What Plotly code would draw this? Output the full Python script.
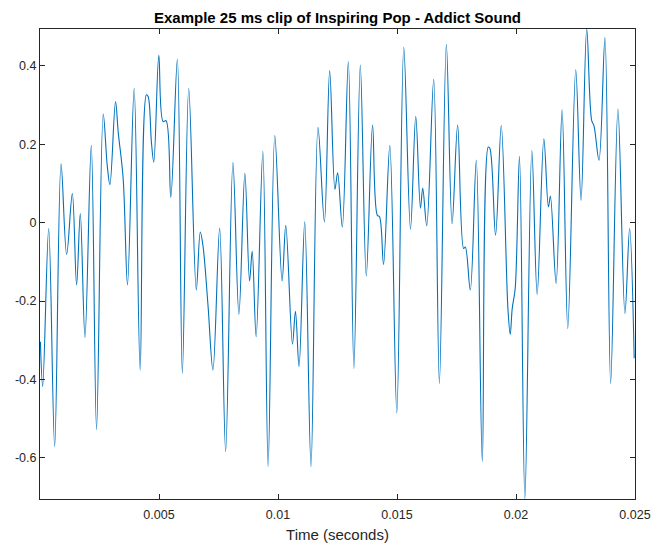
import plotly.graph_objects as go

# Waveform turning points (time in seconds, amplitude)
time_s = [
    0.000017, 0.000113, 0.000365, 0.000616, 0.000884, 0.001119, 0.001358, 0.001538,
    0.001693, 0.001890, 0.002154, 0.002376, 0.002657, 0.002825, 0.002938, 0.003173,
    0.003286, 0.003495, 0.003676, 0.003956, 0.004208, 0.004472, 0.004543, 0.004681,
    0.004782, 0.004992, 0.005172, 0.005298, 0.005495, 0.005771, 0.005981, 0.006249,
    0.006567, 0.006735, 0.006848, 0.007058, 0.007267, 0.007548, 0.007800, 0.008106,
    0.008357, 0.008608, 0.008805, 0.008915, 0.009082, 0.009363, 0.009585, 0.009866,
    0.010172, 0.010327, 0.010608, 0.010733, 0.010884, 0.011123, 0.011387, 0.011681,
    0.011949, 0.012171, 0.012393, 0.012506, 0.012703, 0.012955, 0.013189, 0.013458,
    0.013709, 0.013973, 0.014170, 0.014267, 0.014434, 0.014698, 0.014992, 0.015285,
    0.015566, 0.015788, 0.015985, 0.016081, 0.016249, 0.016542, 0.016781, 0.017074,
    0.017314, 0.017548, 0.017800, 0.017871, 0.018080, 0.018332, 0.018584, 0.018835,
    0.018906, 0.019141, 0.019380, 0.019660, 0.019757, 0.019841, 0.019966, 0.020146,
    0.020373, 0.020666, 0.020889, 0.021170, 0.021362, 0.021446, 0.021685, 0.021936,
    0.022175, 0.022510, 0.022733, 0.022972, 0.023181, 0.023277, 0.023487, 0.023738,
    0.023977, 0.024283, 0.024577, 0.024774, 0.024966,
]
amplitude = [
    -0.304, -0.418, -0.015, -0.571, 0.150, -0.081, 0.074, -0.159,
    0.023, -0.293, 0.197, -0.528, 0.277, 0.146, 0.097, 0.309,
    0.231, 0.112, -0.159, 0.343, -0.376, 0.326, 0.322, 0.205,
    0.154, 0.427, 0.258, 0.260, 0.065, 0.417, -0.384, 0.343,
    -0.172, -0.024, -0.059, -0.210, -0.376, -0.014, -0.584, 0.153,
    -0.234, 0.126, -0.149, -0.073, -0.291, 0.182, -0.622, 0.222,
    -0.149, -0.007, -0.310, -0.226, -0.367, 0.002, -0.622, 0.243,
    0.002, 0.388, 0.085, 0.127, -0.011, 0.411, -0.372, 0.402,
    -0.136, 0.249, 0.019, 0.015, -0.107, 0.197, -0.486, 0.447,
    -0.017, 0.271, 0.037, 0.088, -0.008, 0.366, -0.410, 0.455,
    -0.003, 0.249, -0.066, -0.062, -0.172, 0.160, -0.609, 0.193,
    0.189, -0.032, 0.248, -0.219, -0.285, -0.219, -0.168, 0.169,
    -0.705, 0.184, -0.183, 0.214, 0.040, 0.068, -0.155, 0.288,
    -0.270, 0.390, 0.057, 0.494, 0.260, 0.247, 0.159, 0.472,
    -0.410, 0.290, -0.232, -0.015, -0.346,
]

x_ticks = [0.005, 0.01, 0.015, 0.02, 0.025]
x_tick_text = ["0.005", "0.01", "0.015", "0.02", "0.025"]
y_ticks = [-0.6, -0.4, -0.2, 0, 0.2, 0.4]
y_tick_text = ["-0.6", "-0.4", "-0.2", "0", "0.2", "0.4"]

axis_color = "#262626"

fig = go.Figure(
    go.Scatter(
        x=time_s,
        y=amplitude,
        mode="lines",
        line=dict(color="#0072BD", width=1.1, shape="spline", smoothing=1.0),
        hoverinfo="skip",
    )
)

fig.update_layout(
    width=651,
    height=544,
    margin=dict(l=40, r=16, t=29, b=45),
    paper_bgcolor="white",
    plot_bgcolor="white",
    showlegend=False,
    font=dict(family="Liberation Sans, Arial, sans-serif", size=12.5, color=axis_color),
    title=dict(
        text="<b>Example 25 ms clip of Inspiring Pop - Addict Sound</b>",
        x=(40 + 635) / 2 / 651,
        xanchor="center",
        y=1 - 18 / 544,
        yanchor="middle",
        font=dict(size=15, color="black"),
    ),
)

fig.update_xaxes(
    range=[0, 0.025],
    tickvals=x_ticks,
    ticktext=x_tick_text,
    ticks="inside",
    ticklen=5,
    tickcolor=axis_color,
    ticklabelstandoff=4,
    showline=True,
    linecolor=axis_color,
    linewidth=1,
    mirror="allticks",
    showgrid=False,
    zeroline=False,
    automargin=False,
    title=dict(text="Time (seconds)", font=dict(size=15, color=axis_color), standoff=8),
)

fig.update_yaxes(
    range=[min(amplitude), max(amplitude)],
    tickvals=y_ticks,
    ticktext=y_tick_text,
    ticks="inside",
    ticklen=5,
    tickcolor=axis_color,
    showline=True,
    linecolor=axis_color,
    linewidth=1,
    mirror="allticks",
    showgrid=False,
    zeroline=False,
    automargin=False,
)

fig.write_html("out.html")
